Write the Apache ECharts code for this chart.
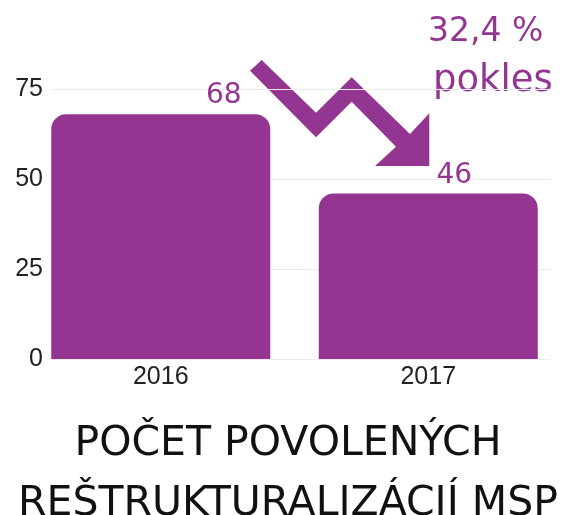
<!DOCTYPE html>
<html>
<head>
<meta charset="utf-8">
<script src="https://cdn.jsdelivr.net/npm/echarts@6/dist/echarts.min.js"></script>
<style>
  html, body { margin: 0; padding: 0; background: #fff; }
  #chart { width: 576px; height: 515px; }
</style>
</head>
<body>
<div id="chart"></div>
<script>
    'use strict';

    const years = ['2016', '2017'];
    const counts = [68, 46];
    const yTicks = [0, 25, 50, 75];
    const dropText = ['32,4 %', 'pokles'];
    const titleLines = ['POČET POVOLENÝCH', 'REŠTRUKTURALIZÁCIÍ MSP'];

    const purple = '#943691';
    const titleFont = 'DejaVu Sans';

    // value labels sit right of bar centre in the original
    const labelShift = [63, 26];

    const chart = echarts.init(document.getElementById('chart'), null, { renderer: 'canvas' });

    const titleStyle = {
        fontFamily: titleFont,
        fontSize: 41,
        fontWeight: 'normal',
        color: '#111'
    };

    const options = {
        animation: false,
        // one title entry per line so each line can be placed on its own
        title: titleLines.map((line, i) => ({
            text: line,
            left: 'center',
            top: 424 + i * 60,
            padding: 0,
            textStyle: titleStyle
        })),
        grid: [
            // grid 0: y axis + gridlines
            { left: 52, right: 26, top: 89, bottom: 156 },
            // grid 1: bars
            { left: 27, right: 14, top: 89, bottom: 156 }
        ],
        xAxis: [
            { type: 'category', gridIndex: 0, data: years, show: false },
            {
                type: 'category',
                gridIndex: 1,
                data: years,
                axisLine: { show: false },
                axisTick: { show: false },
                axisLabel: {
                    fontFamily: 'Liberation Sans',
                    fontSize: 25,
                    color: '#222',
                    margin: 6
                }
            }
        ],
        yAxis: [
            {
                type: 'value',
                gridIndex: 0,
                min: yTicks[0],
                max: yTicks[yTicks.length - 1],
                interval: yTicks[1] - yTicks[0],
                axisLine: { show: false },
                axisTick: { show: false },
                axisLabel: {
                    fontFamily: 'Liberation Sans',
                    fontSize: 25,
                    color: '#222',
                    margin: 9
                },
                splitLine: { lineStyle: { color: '#ebebeb', width: 1 } }
            },
            {
                type: 'value',
                gridIndex: 1,
                min: yTicks[0],
                max: yTicks[yTicks.length - 1],
                show: false
            }
        ],
        series: [{
            type: 'bar',
            xAxisIndex: 1,
            yAxisIndex: 1,
            barWidth: 219,
            data: counts.map((v, i) => ({
                value: v,
                label: { offset: [labelShift[i], 0] }
            })),
            itemStyle: { color: purple, borderRadius: [15, 15, 0, 0] },
            label: {
                show: true,
                position: 'top',
                distance: 4,
                fontFamily: titleFont,
                fontSize: 28,
                color: purple
            }
        }],
        graphic: [
            {
                // zigzag down arrow
                type: 'polygon',
                shape: {
                    points: [
                        [261.7, 60], [316, 112.7], [351.7, 77.3], [410, 134],
                        [429.3, 113.3], [429.3, 166], [375, 166], [396, 146.7],
                        [351.7, 101.7], [316, 137.3], [250, 70.7]
                    ]
                },
                style: { fill: purple }
            },
            {
                type: 'text',
                x: 428,
                y: 32,
                style: {
                    text: dropText[0],
                    fontFamily: titleFont,
                    fontSize: 33,
                    fill: purple,
                    align: 'left',
                    verticalAlign: 'middle'
                }
            },
            {
                type: 'text',
                x: 433,
                y: 81,
                style: {
                    text: dropText[1],
                    fontFamily: titleFont,
                    fontSize: 37,
                    fill: purple,
                    align: 'left',
                    verticalAlign: 'middle'
                }
            }
        ]
    };

    chart.setOption(options);
</script>
</body>
</html>
